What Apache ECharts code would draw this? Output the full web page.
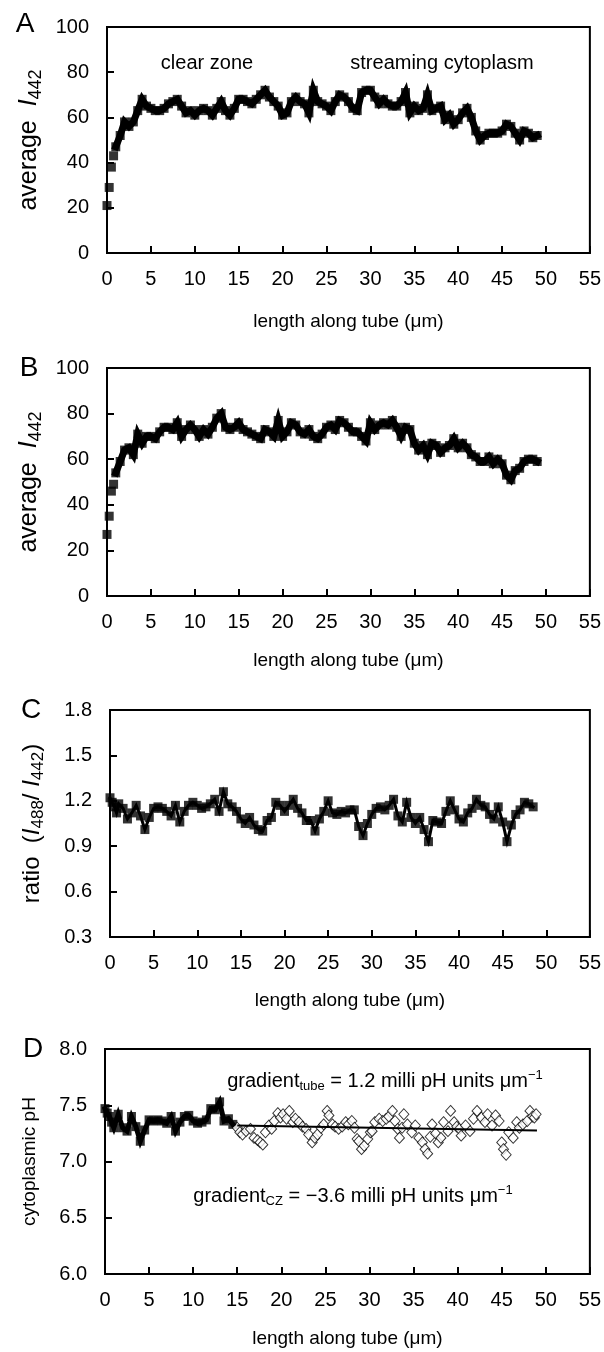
<!DOCTYPE html>
<html><head><meta charset="utf-8">
<script src="https://cdn.jsdelivr.net/npm/echarts@6/dist/echarts.min.js"></script>
<style>html,body{margin:0;padding:0;background:#fff}#c{width:604px;height:1352px}</style>
</head><body><div id="c"></div>
<script>
// length along tube (µm) sample positions
const positions = [0,0.25,0.5,0.75,
1,1.5,2,2.5,3,3.5,4,4.5,5,5.5,6,6.5,7,7.5,8,8.5,9,9.5,10,10.5,11,11.5,12,12.5,13,13.5,14,14.5,
15,15.5,16,16.5,17,17.5,18,18.5,19,19.5,20,20.5,21,21.5,22,22.5,23,23.5,24,24.5,
25,25.5,26,26.5,27,27.5,28,28.5,29,29.5,30,30.5,31,31.5,32,32.5,33,33.5,34,34.5,
35,35.5,36,36.5,37,37.5,38,38.5,39,39.5,40,40.5,41,41.5,42,42.5,43,43.5,44,44.5,
45,45.5,46,46.5,47,47.5,48,48.5,49];
// Panel A: average I442
const intensityA = [21,29,38,43,
47,52,58,56,58,63,68,65,64,63,63,64,66,67,68,65,62,63,61,63,64,63,61,64,67,63,61,64,
68,68,67,66,68,70,72,69,67,65,61,62,67,69,67,66,62,72,67,66,
65,63,67,70,69,67,64,63,71,72,72,69,66,68,66,65,65,67,71,62,
65,63,64,70,63,64,65,59,61,57,59,62,64,60,54,50,52,53,53,53,
54,57,56,53,50,54,53,51,52];
// Panel B: average I442
const intensityB = [27,35,46,49,
54,59,64,65,62,71,67,70,70,69,72,74,74,73,76,70,73,75,73,70,73,71,74,78,80,74,73,74,
76,73,72,71,70,69,73,72,70,77,70,72,76,75,72,71,73,70,69,71,
74,75,73,77,76,74,72,72,70,68,76,73,75,76,75,77,74,70,74,73,
67,64,66,62,67,66,63,65,66,69,65,67,65,62,61,59,59,61,58,60,
58,53,51,55,56,59,60,60,59];
// Panel C: ratio I488/I442
const ratioC = [1.22,1.19,1.16,1.12,
1.18,1.15,1.08,1.12,1.17,1.10,1.01,1.09,1.15,1.16,1.15,1.13,1.10,1.17,1.06,1.13,1.17,1.19,1.17,1.15,1.16,1.18,1.21,1.13,1.26,1.18,1.16,1.13,
1.08,1.05,1.09,1.04,1.01,1.00,1.07,1.09,1.19,1.17,1.13,1.17,1.21,1.15,1.12,1.07,1.07,1.00,1.08,1.13,
1.20,1.12,1.11,1.13,1.12,1.14,1.14,1.03,0.97,1.05,1.11,1.15,1.16,1.14,1.17,1.21,1.10,1.06,1.19,1.09,
1.05,1.09,1.01,0.93,1.07,1.06,1.05,1.13,1.20,1.14,1.08,1.06,1.12,1.15,1.21,1.17,1.16,1.11,1.08,1.16,
1.06,0.93,1.04,1.11,1.14,1.19,1.18,1.16];
// Panel D: cytoplasmic pH in the clear zone (0-14.5 µm)
const pHClearZone = [7.47,7.43,7.40,7.35,
7.30,7.42,7.30,7.27,7.40,7.31,7.18,7.28,7.37,7.36,7.37,7.36,7.34,7.40,7.27,7.35,7.40,7.41,7.36,7.34,7.35,7.37,7.47,7.46,7.53,7.36,7.38,7.33];
// Panel D: cytoplasmic pH along the tube (open diamonds)
const tubeX = [15.0,15.3,15.6,16.0,16.5,16.9,17.3,17.6,17.9,18.2,18.6,18.9,19.2,19.6,19.9,20.2,20.6,20.9,21.3,21.6,
22.0,22.4,22.8,23.1,23.5,23.8,24.1,24.5,24.8,25.2,25.4,25.8,26.1,26.5,26.9,27.3,27.6,28.0,28.3,28.6,
28.8,29.1,29.4,29.8,30.1,30.3,30.6,31.1,31.5,31.9,32.2,32.6,32.9,33.2,33.4,33.7,33.9,34.3,34.8,35.2,
35.6,36.0,36.3,36.6,36.9,37.1,37.5,37.8,38.1,38.4,38.9,39.2,39.6,39.9,40.2,40.4,40.9,41.4,41.8,42.2,
42.7,43.1,43.4,43.9,44.3,44.7,45.0,45.2,45.5,45.8,46.3,46.7,47.0,47.4,47.9,48.2,48.5,48.7,48.9];
const pHTube = [7.30,7.26,7.24,7.27,7.29,7.21,7.19,7.17,7.15,7.26,7.32,7.29,7.36,7.43,7.39,7.42,7.38,7.45,7.35,7.38,
7.35,7.31,7.29,7.24,7.17,7.21,7.24,7.30,7.33,7.45,7.41,7.33,7.31,7.29,7.31,7.35,7.33,7.36,7.30,7.20,
7.18,7.11,7.14,7.20,7.26,7.27,7.35,7.38,7.36,7.38,7.40,7.45,7.36,7.29,7.21,7.30,7.42,7.33,7.26,7.32,
7.21,7.17,7.11,7.07,7.22,7.33,7.25,7.17,7.21,7.35,7.27,7.45,7.35,7.31,7.29,7.23,7.32,7.27,7.38,7.45,
7.39,7.35,7.42,7.32,7.41,7.36,7.17,7.11,7.06,7.26,7.21,7.35,7.30,7.33,7.36,7.45,7.40,7.39,7.42];
const fitX = [15, 49];
const fitPH = [7.32, 7.275];
const xTicks = {min: 0, max: 55, interval: 5};

const FONT = '"Liberation Sans", Arial, sans-serif';
function zip(xs, ys) { return ys.map((v, i) => [xs[i], v]); }

const grids = [
  {left: 107, top: 27, width: 484, height: 226},
  {left: 107, top: 368, width: 484, height: 228},
  {left: 110, top: 710, width: 482, height: 227},
  {left: 105, top: 1049, width: 486, height: 225}
];
const xTitleGap = [59, 55, 54, 55];

function xAxis(i) {
  return {
    gridIndex: i, type: 'value', min: xTicks.min, max: xTicks.max, interval: xTicks.interval,
    axisLine: {show: true, onZero: false, lineStyle: {color: '#000', width: 2}},
    axisTick: {show: true, inside: true, length: 7, lineStyle: {color: '#000', width: 2}},
    axisLabel: {color: '#000', fontSize: 20, fontFamily: FONT, margin: 16},
    splitLine: {show: false},
    name: 'length along tube (\u03bcm)', nameLocation: 'middle', nameGap: xTitleGap[i],
    nameTextStyle: {color: '#000', fontSize: 19, fontFamily: FONT}
  };
}
function yAxis(i, min, max, interval, dec, name, nameStyle, gap) {
  return {
    gridIndex: i, type: 'value', min: min, max: max, interval: interval,
    axisLine: {show: true, onZero: false, lineStyle: {color: '#000', width: 2}},
    axisTick: {show: true, inside: true, length: 7, lineStyle: {color: '#000', width: 2}},
    axisLabel: {color: '#000', fontSize: 20, fontFamily: FONT, margin: 18,
      formatter: v => v.toFixed(dec)},
    splitLine: {show: false},
    name: name, nameLocation: 'middle', nameRotate: 90, nameGap: gap,
    nameTextStyle: nameStyle
  };
}
function nameStyle(size) {
  return {color: '#000', fontSize: size, fontFamily: FONT, lineHeight: size + 6,
    rich: {
      t: {fontSize: size, fontFamily: FONT, color: '#000', lineHeight: size + 6},
      i: {fontSize: size, fontFamily: FONT, color: '#000', fontStyle: 'italic', lineHeight: size + 6},
      s: {fontSize: Math.round(size * 0.7), fontFamily: FONT, color: '#000', verticalAlign: 'bottom', lineHeight: size - 2}
    }};
}

// dense sampling in the original appears as a continuous band of squares
function trace(xi, data, from, width) {
  return [
    {type: 'line', xAxisIndex: xi, yAxisIndex: xi, data: data.slice(from), symbol: 'none', silent: true,
      lineStyle: {color: '#000', width: width, cap: 'square', join: 'miter'}},
    {type: 'scatter', xAxisIndex: xi, yAxisIndex: xi, data: data,
      symbol: 'rect', symbolSize: 9, itemStyle: {color: '#000'}, silent: true}
  ];
}

const option = {
  animation: false,
  backgroundColor: '#fff',
  grid: grids.map(g => Object.assign({show: true, borderColor: '#000', borderWidth: 2, backgroundColor: 'transparent'}, g)),
  xAxis: [0, 1, 2, 3].map(xAxis),
  yAxis: [
    yAxis(0, 0, 100, 20, 0, '{t|average  }{i|I}{s|442}', nameStyle(25), 62),
    yAxis(1, 0, 100, 20, 0, '{t|average  }{i|I}{s|442}', nameStyle(25), 62),
    yAxis(2, 0.3, 1.8, 0.3, 1, '{t|ratio  (}{i|I}{s|488}{t|/ }{i|I}{s|442}{t|)}', nameStyle(24), 63),
    yAxis(3, 6, 8, 0.5, 1, 'cytoplasmic pH', {color: '#000', fontSize: 19, fontFamily: FONT}, 66)
  ],
  series: [].concat(
    trace(0, zip(positions, intensityA), 4, 7),
    trace(1, zip(positions, intensityB), 4, 7),
    trace(2, zip(positions, ratioC), 0, 3),
    trace(3, zip(positions, pHClearZone), 0, 5),
    [
      {type: 'scatter', xAxisIndex: 3, yAxisIndex: 3, data: zip(tubeX, pHTube),
        symbol: 'diamond', symbolSize: [10, 11], itemStyle: {color: '#fff', borderColor: '#000', borderWidth: 1}, silent: true},
      {type: 'line', xAxisIndex: 3, yAxisIndex: 3, data: zip(fitX, fitPH), symbol: 'none', z: 5,
        lineStyle: {color: '#000', width: 2}, silent: true}
    ]),
  graphic: [
    {type: 'text', x: 25, y: 24, style: {text: 'A', font: '28px ' + FONT, fill: '#000', align: 'center', verticalAlign: 'middle'}},
    {type: 'text', x: 29, y: 368, style: {text: 'B', font: '28px ' + FONT, fill: '#000', align: 'center', verticalAlign: 'middle'}},
    {type: 'text', x: 31, y: 710, style: {text: 'C', font: '28px ' + FONT, fill: '#000', align: 'center', verticalAlign: 'middle'}},
    {type: 'text', x: 33, y: 1049, style: {text: 'D', font: '28px ' + FONT, fill: '#000', align: 'center', verticalAlign: 'middle'}},
    {type: 'text', x: 207, y: 63, style: {text: 'clear zone', font: '20px ' + FONT, fill: '#000', align: 'center', verticalAlign: 'middle'}},
    {type: 'text', x: 442, y: 63, style: {text: 'streaming cytoplasm', font: '20px ' + FONT, fill: '#000', align: 'center', verticalAlign: 'middle'}},
    {type: 'text', x: 385, y: 1081, style: {
      text: '{t|gradient}{s|tube}{t| = 1.2 milli pH units \u03bcm}{p|\u22121}',
      align: 'center', verticalAlign: 'middle',
      rich: {
        t: {font: '20px ' + FONT, fill: '#000', lineHeight: 24},
        s: {font: '13px ' + FONT, fill: '#000', verticalAlign: 'bottom', lineHeight: 16},
        p: {font: '13px ' + FONT, fill: '#000', verticalAlign: 'top', lineHeight: 16}
      }}},
    {type: 'text', x: 353, y: 1196, style: {
      text: '{t|gradient}{s|CZ}{t| = \u22123.6 milli pH units \u03bcm}{p|\u22121}',
      align: 'center', verticalAlign: 'middle',
      rich: {
        t: {font: '20px ' + FONT, fill: '#000', lineHeight: 24},
        s: {font: '13px ' + FONT, fill: '#000', verticalAlign: 'bottom', lineHeight: 16},
        p: {font: '13px ' + FONT, fill: '#000', verticalAlign: 'top', lineHeight: 16}
      }}}
  ]
};
const chart = echarts.init(document.getElementById('c'), null, {renderer: 'canvas'});
chart.setOption(option);
</script></body></html>
